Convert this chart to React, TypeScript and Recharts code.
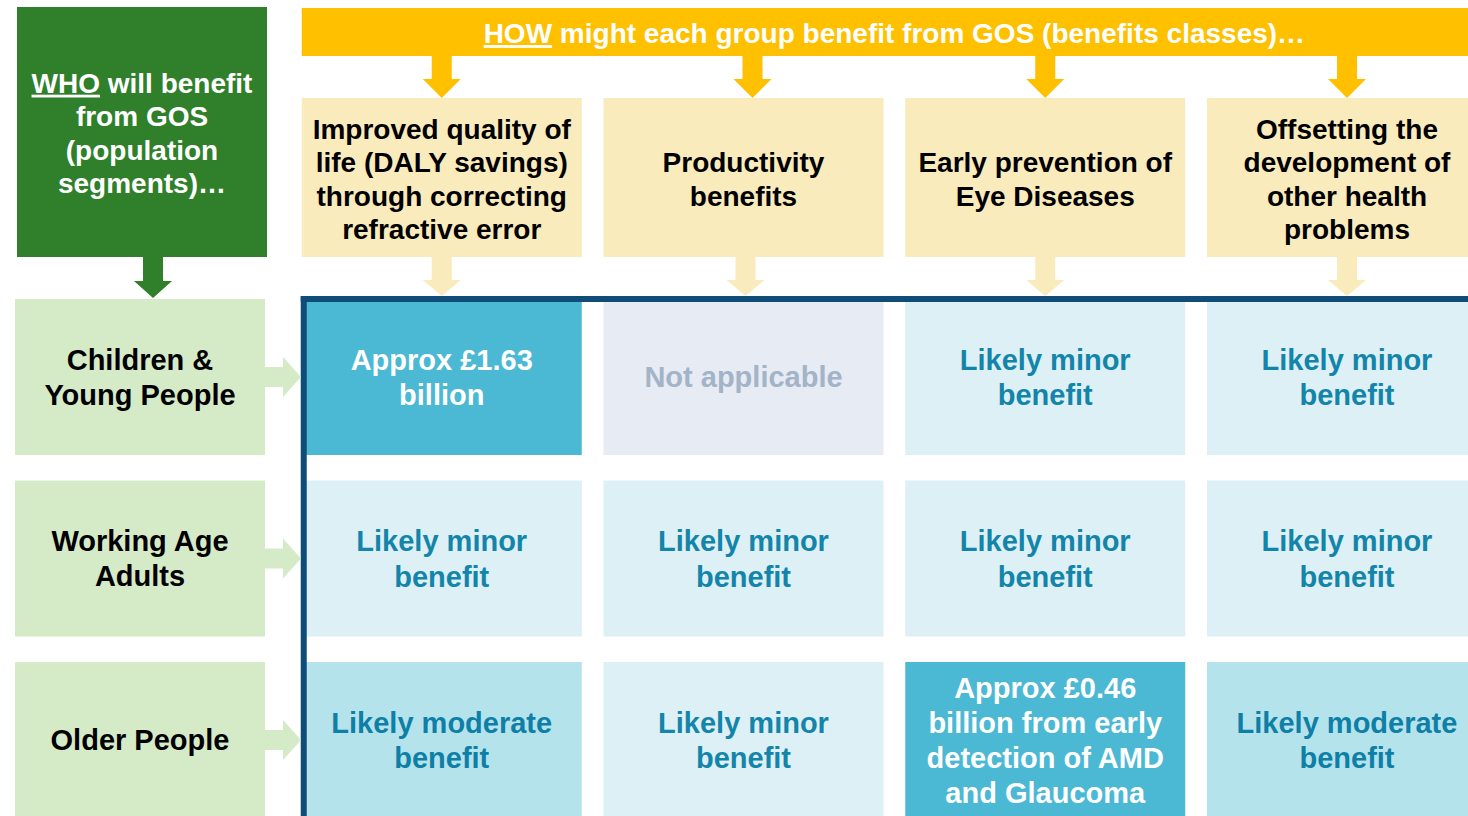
import React from "react";
import { ScatterChart, Scatter, XAxis, YAxis } from "recharts";

// population segments (rows) and benefit classes (columns)
const whoTitle = ["WHO will benefit", "from GOS", "(population", "segments)…"];
const howTitle = "HOW might each group benefit from GOS (benefits classes)…";

const segments = [
  ["Children &", "Young People"],
  ["Working Age", "Adults"],
  ["Older People"],
];

const benefitClasses = [
  ["Improved quality of", "life (DALY savings)", "through correcting", "refractive error"],
  ["Productivity", "benefits"],
  ["Early prevention of", "Eye Diseases"],
  ["Offsetting the", "development of", "other health", "problems"],
];

const cellTexts = [
  [["Approx £1.63", "billion"], ["Not applicable"], ["Likely minor", "benefit"], ["Likely minor", "benefit"]],
  [["Likely minor", "benefit"], ["Likely minor", "benefit"], ["Likely minor", "benefit"], ["Likely minor", "benefit"]],
  [
    ["Likely moderate", "benefit"],
    ["Likely minor", "benefit"],
    ["Approx £0.46", "billion from early", "detection of AMD", "and Glaucoma"],
    ["Likely moderate", "benefit"],
  ],
];

const cellLevels = [
  ["quantified", "na", "minor", "minor"],
  ["minor", "minor", "minor", "minor"],
  ["moderate", "minor", "quantified", "moderate"],
];

// ---- styling ----
const W = 1468;
const H = 816;
const FONT = "'Liberation Sans', Arial, Helvetica, sans-serif";
const COL_STEP = 301.75;
const ROW_STEP = 181.5;
const COL0_PX = 140;
const ROW0_PX = 377;
const CELL_W = 280;
const CELL_H = 156;
const LABEL_W = 250;

const levelStyle: Record<string, { fill: string; text: string }> = {
  quantified: { fill: "#4bb8d4", text: "#ffffff" },
  na: { fill: "#e7ebf3", text: "#a3b3c8" },
  minor: { fill: "#ddf0f5", text: "#1485aa" },
  moderate: { fill: "#b5e3ec", text: "#0e7fa6" },
};

const GREEN = "#2f7f2b";
const LIGHT_GREEN = "#d5ebc8";
const YELLOW = "#ffc000";
const LIGHT_YELLOW = "#faebbd";
const FRAME = "#0f4d78";

function Lines({ x, y, lines, size, lh, fill, underline }: any) {
  const n = lines.length;
  return (
    <text x={x} textAnchor="middle" fontFamily={FONT} fontWeight={700} fontSize={size} fill={fill}>
      {lines.map((l: string, i: number) => {
        const ly = y + (i - (n - 1) / 2) * lh + size * 0.36;
        if (underline && l.startsWith(underline)) {
          return (
            <tspan key={i} x={x} y={ly}>
              <tspan style={{ textDecoration: "underline" }}>{underline}</tspan>
              {l.slice(underline.length)}
            </tspan>
          );
        }
        return (
          <tspan key={i} x={x} y={ly}>
            {l}
          </tspan>
        );
      })}
    </text>
  );
}

// vertical arrow pointing down, from y0 to y1
function DownArrow({ cx, y0, y1, headH, fill }: any) {
  const s = 10;
  const h = 19;
  const d = `M${cx - s},${y0} L${cx + s},${y0} L${cx + s},${y1 - headH} L${cx + h},${y1 - headH} L${cx},${y1} L${cx - h},${y1 - headH} L${cx - s},${y1 - headH} Z`;
  return <path d={d} fill={fill} />;
}

function CellShape(props: any) {
  const { cx, cy, payload } = props;
  const st = levelStyle[payload.level];
  return (
    <g>
      <rect x={cx - CELL_W / 2} y={cy - CELL_H / 2} width={CELL_W} height={CELL_H} fill={st.fill} />
      <Lines x={cx} y={cy} lines={payload.text} size={29} lh={35.2} fill={st.text} />
    </g>
  );
}

function SegmentShape(props: any) {
  const { cx, cy, payload } = props;
  const right = cx + LABEL_W / 2;
  const a = `M${right},${cy - 10} L${right + 18},${cy - 10} L${right + 18},${cy - 20} L${right + 36},${cy} L${right + 18},${cy + 20} L${right + 18},${cy + 10} L${right},${cy + 10} Z`;
  return (
    <g>
      <rect x={cx - LABEL_W / 2} y={cy - CELL_H / 2} width={LABEL_W} height={CELL_H} fill={LIGHT_GREEN} />
      <path d={a} fill={LIGHT_GREEN} />
      <Lines x={cx} y={cy} lines={payload.label} size={29} lh={35} fill="#000000" />
    </g>
  );
}

// header boxes sit above row 0
const HEADER_OFFSET = -199.5;
const HEADER_H = 159;
const topArrowShift = [0, 9, 0, 0];

function HeaderShape(props: any) {
  const { cx, cy, payload } = props;
  const hy = cy + HEADER_OFFSET;
  const top = hy - HEADER_H / 2;
  const bottom = hy + HEADER_H / 2;
  return (
    <g>
      <DownArrow cx={cx + topArrowShift[payload.idx]} y0={top - 43} y1={top} headH={19} fill={YELLOW} />
      <rect x={cx - CELL_W / 2} y={top} width={CELL_W} height={HEADER_H} fill={LIGHT_YELLOW} />
      <DownArrow cx={cx + (payload.idx === 1 ? 2 : 0)} y0={bottom} y1={bottom + 39} headH={16} fill={LIGHT_YELLOW} />
      <Lines x={cx} y={hy + 1.5} lines={payload.label} size={28} lh={33.6} fill="#000000" />
    </g>
  );
}

function WhoShape(props: any) {
  const { cx, cy } = props;
  const by = cy - 245;
  return (
    <g>
      <rect x={cx + 2 - 125} y={by - 125} width={250} height={250} fill={GREEN} />
      <DownArrow cx={cx + 13} y0={by + 125} y1={by + 166} headH={17} fill={GREEN} />
      <Lines x={cx + 2} y={by + 1} lines={whoTitle} size={28} lh={33.6} fill="#ffffff" underline="WHO" />
    </g>
  );
}

function BannerShape(props: any) {
  const { cx, cy } = props;
  const width = 3 * COL_STEP + CELL_W;
  const by = cy - 345;
  return (
    <g>
      <rect x={cx - width / 2} y={by - 24} width={width} height={48} fill={YELLOW} />
      <Lines x={cx} y={by + 1} lines={[howTitle]} size={28} lh={33.6} fill="#ffffff" underline="HOW" />
    </g>
  );
}

function FrameShape(props: any) {
  const { cx, cy } = props;
  const x0 = cx - CELL_W / 2 - 1;
  const y0 = cy - CELL_H / 2 - 3;
  return (
    <g>
      <rect x={x0} y={y0} width={W - x0 + 40} height={6} fill={FRAME} />
      <rect x={x0} y={y0} width={6} height={H - y0 + 20} fill={FRAME} />
    </g>
  );
}

const cellData = cellTexts.flatMap((row, r) =>
  row.map((text, c) => ({ x: c + 1, y: r, text, level: cellLevels[r][c] }))
);
const segmentData = segments.map((label, r) => ({ x: 0, y: r, label }));
const headerData = benefitClasses.map((label, i) => ({ x: i + 1, y: 0, label, idx: i }));
const whoData = [{ x: 0, y: 0 }];
const bannerData = [{ x: (1 + benefitClasses.length) / 2, y: 0 }];
const frameData = [{ x: 1, y: 0 }];

const xDomain = [-COL0_PX / COL_STEP, (W - COL0_PX) / COL_STEP];
const yDomain = [-ROW0_PX / ROW_STEP, (H - ROW0_PX) / ROW_STEP];

export default function App() {
  return (
    <div style={{ position: "absolute", left: 0, top: 0, width: W, height: H, background: "#fff" }}>
      <ScatterChart width={W} height={H} margin={{ top: 0, right: 0, bottom: 0, left: 0 }}>
        <XAxis type="number" dataKey="x" domain={xDomain} scale="linear" allowDataOverflow hide />
        <YAxis type="number" dataKey="y" domain={yDomain} scale="linear" allowDataOverflow reversed hide />
        <Scatter data={cellData} shape={(p: any) => <CellShape {...p} />} isAnimationActive={false} />
        <Scatter data={frameData} shape={(p: any) => <FrameShape {...p} />} isAnimationActive={false} />
        <Scatter data={segmentData} shape={(p: any) => <SegmentShape {...p} />} isAnimationActive={false} />
        <Scatter data={headerData} shape={(p: any) => <HeaderShape {...p} />} isAnimationActive={false} />
        <Scatter data={bannerData} shape={(p: any) => <BannerShape {...p} />} isAnimationActive={false} />
        <Scatter data={whoData} shape={(p: any) => <WhoShape {...p} />} isAnimationActive={false} />
      </ScatterChart>
    </div>
  );
}
